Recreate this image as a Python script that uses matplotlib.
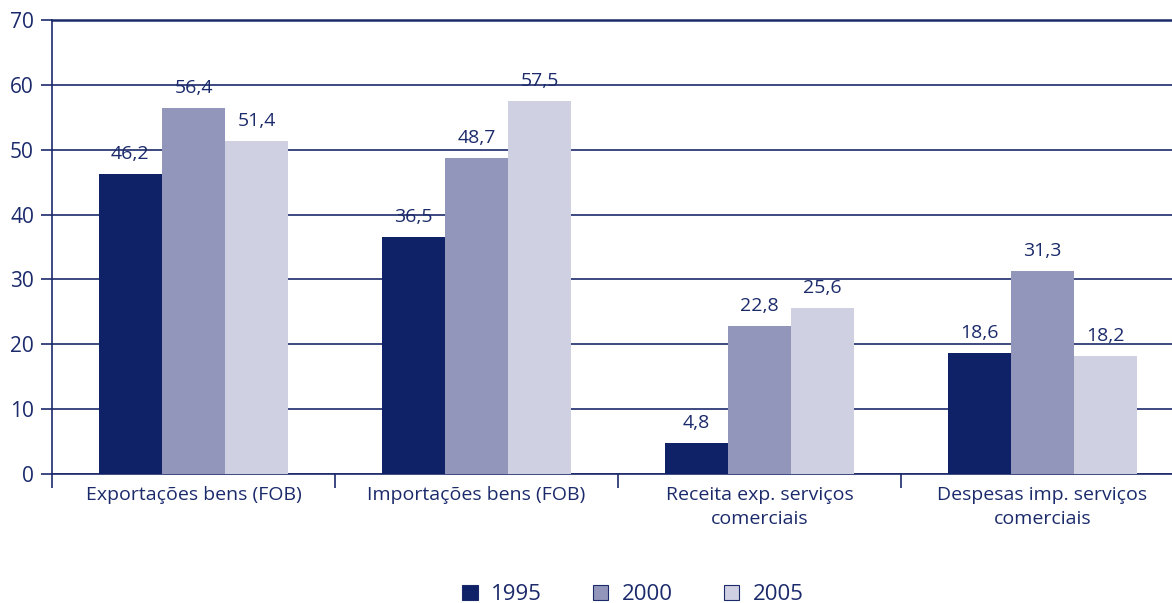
import matplotlib.pyplot as plt
import numpy as np

plt.rcParams['font.family'] = ['Open Sans', 'DejaVu Sans']

categories = ['Exportações bens (FOB)', 'Importações bens (FOB)',
              'Receita exp. serviços\ncomerciais', 'Despesas imp. serviços\ncomerciais']
years = ['1995', '2000', '2005']
v1995 = [46.2, 36.5, 4.8, 18.6]
v2000 = [56.4, 48.7, 22.8, 31.3]
v2005 = [51.4, 57.5, 25.6, 18.2]

navy = '#1b2a6b'
colors = ['#0f2167', '#9396bb', '#cfd0e2']

fig = plt.figure(figsize=(11.72, 6.03), dpi=100)
ax = fig.add_axes([52/1172, 1-474/603, 1132/1172, 454/603])

x = np.arange(len(categories))
w = 0.223
series = [v1995, v2000, v2005]
for i, (vals, c, lab) in enumerate(zip(series, colors, years)):
    bars = ax.bar(x + (i-1)*w, vals, w, color=c, label=lab, zorder=3,
                  edgecolor='none')
    for b, v in zip(bars, vals):
        ax.text(b.get_x() + b.get_width()/2, v + 1.7, f'{v:.1f}'.replace('.', ','),
                ha='center', va='bottom', fontsize=14, color=navy)

ax.set_xlim(-0.5, len(categories)-0.5)
ax.set_ylim(0, 70)
ax.set_yticks(range(0, 71, 10))
ax.yaxis.grid(True, color=navy, linewidth=1.2, zorder=0)
ax.set_axisbelow(True)

ax.set_xticks(x)
ax.set_xticklabels(categories, fontsize=14, color=navy, linespacing=1.4)
ax.tick_params(axis='x', length=0, pad=9)
ax.set_xticks(np.arange(-0.5, len(categories), 1.0), minor=True)
ax.tick_params(axis='x', which='minor', length=10, width=1.2, color=navy)
ax.tick_params(axis='y', labelsize=15, labelcolor=navy, length=8, width=1.2,
               color=navy, pad=5)

ax.spines['right'].set_visible(False)
ax.spines['top'].set_color(navy)
ax.spines['top'].set_linewidth(1.8)
for s in ['left', 'bottom']:
    ax.spines[s].set_color(navy)
    ax.spines[s].set_linewidth(1.2)

leg = fig.legend(loc='lower center', bbox_to_anchor=(0.54, -0.037), ncol=3,
                 frameon=False, fontsize=16, handlelength=0.7, handleheight=0.7,
                 columnspacing=2.3, handletextpad=0.6)
for t in leg.get_texts():
    t.set_color(navy)
for h in leg.legend_handles:
    h.set_edgecolor(navy)
    h.set_linewidth(0.8)

fig.savefig('out.png', dpi=100)
